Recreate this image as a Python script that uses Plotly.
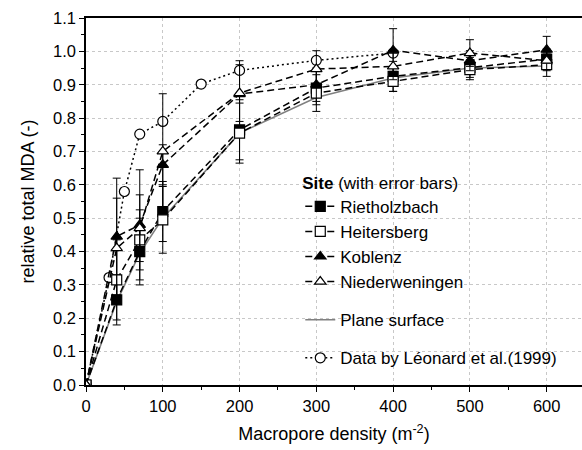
import plotly.graph_objects as go

x_sites = [0, 40, 70, 100, 200, 300, 400, 500, 600]

riet = [0, 0.255, 0.40, 0.52, 0.765, 0.89, 0.925, 0.952, 0.977]
riet_err = [0, 0.075, 0.10, 0.09, 0.09, 0.05, 0.045, 0.03, 0.03]

heit = [0, 0.315, 0.435, 0.495, 0.755, 0.875, 0.91, 0.945, 0.96]
heit_err = [0, 0.12, 0.09, 0.10, 0.09, 0.055, 0.03, 0.03, 0.035]

kobl = [0, 0.445, 0.48, 0.66, 0.872, 0.90, 1.003, 0.972, 1.005]
kobl_err = [0, 0.175, 0.165, 0.06, 0.10, 0.05, 0.065, 0.03, 0.04]

nied = [0, 0.41, 0.47, 0.70, 0.875, 0.947, 0.955, 0.995, 0.972]
nied_err = [0, 0.15, 0.10, 0.173, 0.085, 0.055, 0.04, 0.04, 0.03]

x_plane = [0, 40, 70, 100, 200, 300, 400, 500, 600]
plane = [0, 0.25, 0.395, 0.50, 0.755, 0.862, 0.92, 0.95, 0.956]

x_leon = [0, 30, 50, 70, 100, 150, 200, 300, 400]
leon = [0, 0.322, 0.58, 0.752, 0.79, 0.902, 0.943, 0.973, 0.995]

x_ticks = [0, 100, 200, 300, 400, 500, 600]
y_ticks = [0.0, 0.1, 0.2, 0.3, 0.4, 0.5, 0.6, 0.7, 0.8, 0.9, 1.0, 1.1]

FONT = "Liberation Sans, Arial, sans-serif"

fig = go.Figure()

# plane surface drawn first (beneath)
fig.add_trace(go.Scatter(
    x=x_plane, y=plane, name="Plane surface", mode="lines",
    legendgroup="plane", legendrank=5,
    line=dict(color="#808080", width=1.6),
))

# Léonard data beneath site markers
fig.add_trace(go.Scatter(
    x=x_leon, y=leon, name="Data by Léonard et al.(1999)", mode="lines+markers",
    legendgroup="leon", legendrank=6,
    line=dict(color="black", width=1.5, dash="2px,3px"),
    marker=dict(symbol="circle", size=10, color="white",
                line=dict(color="black", width=1.2)),
))

def site(name, y, err, symbol, fill, rank):
    fig.add_trace(go.Scatter(
        x=x_sites, y=y, name=name, mode="lines+markers",
        legendgroup="sites", legendrank=rank,
        line=dict(color="black", width=1.5, dash="7px,4px"),
        marker=dict(symbol=symbol, size=10, color=fill,
                    line=dict(color="black", width=1.2)),
        error_y=dict(type="data", array=err, visible=True,
                     color="black", thickness=1, width=4),
    ))

site("Rietholzbach", riet, riet_err, "square", "black", 1)
site("Heitersberg", heit, heit_err, "square", "white", 2)
site("Koblenz", kobl, kobl_err, "triangle-up", "black", 3)
site("Niederweningen", nied, nied_err, "triangle-up", "white", 4)

fig.update_layout(
    width=582, height=450,
    margin=dict(l=86, r=0, t=18, b=65),
    paper_bgcolor="white", plot_bgcolor="white",
    font=dict(family=FONT, size=16.5, color="black"),
    showlegend=True,
    legend=dict(
        x=0.432, y=0.595, xanchor="left", yanchor="top",
        bgcolor="rgba(0,0,0,0)", borderwidth=0,
        font=dict(family=FONT, size=17, color="black"),
        title=dict(text="<b>Site</b> (with error bars)", font=dict(family=FONT, size=17)),
        traceorder="grouped", tracegroupgap=13,
        itemwidth=30,
    ),
    xaxis=dict(
        range=[0, 646], tickmode="array", tickvals=x_ticks,
        ticks="outside", ticklen=5, tickwidth=1.2, tickcolor="black",
        minor=dict(ticks="outside", ticklen=3, tickwidth=1, tickcolor="black",
                   dtick=50, showgrid=False),
        showline=True, linecolor="black", linewidth=1.5, mirror=True,
        showgrid=True, gridcolor="#c8c8c8", griddash="dot", gridwidth=1,
        zeroline=False,
        tickfont=dict(size=16.5),
        title=dict(text="Macropore density (m<sup>-2</sup>)", font=dict(size=18), standoff=14),
    ),
    yaxis=dict(
        range=[0, 1.1], tickmode="array", tickvals=y_ticks,
        tickformat=".1f",
        ticks="outside", ticklen=5, tickwidth=1.2, tickcolor="black",
        minor=dict(ticks="outside", ticklen=3, tickwidth=1, tickcolor="black",
                   dtick=0.05, showgrid=False),
        showline=True, linecolor="black", linewidth=1.5, mirror=False,
        showgrid=True, gridcolor="#c8c8c8", griddash="dot", gridwidth=1,
        zeroline=False,
        tickfont=dict(size=16.5),
        title=dict(text="relative total MDA (-)", font=dict(size=18), standoff=14),
    ),
)

fig.write_html("out.html")
